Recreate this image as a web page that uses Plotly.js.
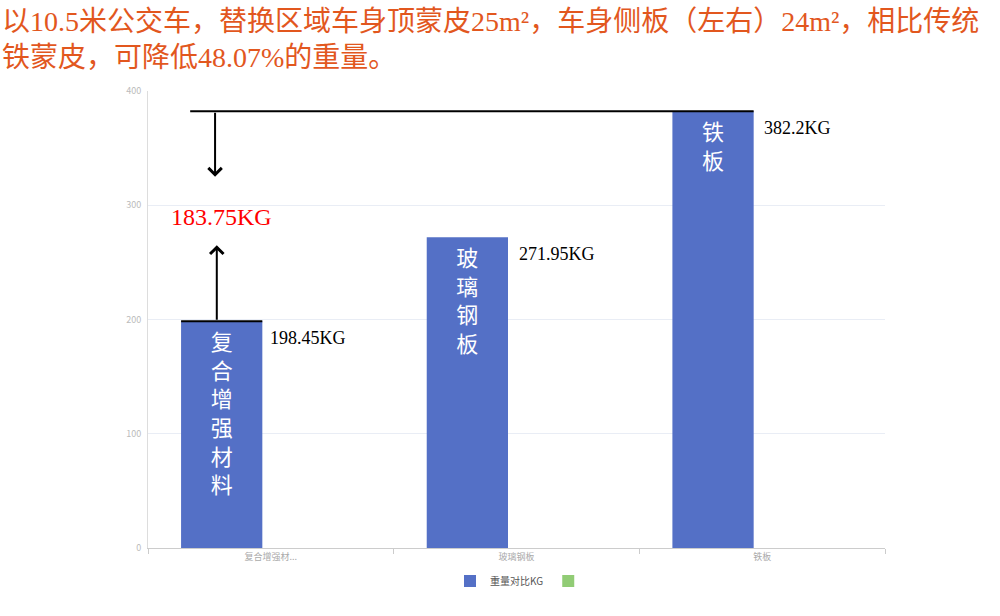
<!DOCTYPE html>
<html>
<head>
<meta charset="utf-8">
<script src="https://cdn.plot.ly/plotly-3.0.1.min.js"></script>
<style>
  html, body { margin: 0; padding: 0; background: #fff; }
  #chart { width: 1000px; height: 616px; }
</style>
</head>
<body>
<div id="chart"></div>
<script>
// 数据
const categories = ['复合增强材...', '玻璃钢板', '铁板'];
const barNames = ['复合增强材料', '玻璃钢板', '铁板'];
const weights = [198.45, 271.95, 382.2];
const weightLabels = ['198.45KG', '271.95KG', '382.2KG'];
const saving = 183.75;                 // 382.2 - 198.45
const arrowTips = [325, 265];          // 箭头尖端位置（下箭头、上箭头）
const yTicks = [0, 100, 200, 300, 400];
const titleText = '以10.5米公交车，替换区域车身顶蒙皮25m²，车身侧板（左右）24m²，相比传统<br>铁蒙皮，可降低48.07%的重量。';

const bargap = 0.2;
const barBase = (1 - bargap) / 4;      // 分组后第一根柱子相对类别中心的偏移
const barHalf = 81 / 245 / 2;          // 柱宽的一半（类别单位）
const barCenter = i => i - barBase;

const serif = 'Liberation Serif, "Noto Sans CJK SC", serif';
const sans = '"Noto Sans CJK SC", "Noto Sans", sans-serif';

const traces = [
  {
    type: 'bar',
    name: '重量对比KG',
    x: categories,
    y: weights,
    marker: { color: '#5470c6' },
    text: barNames.map(s => s.split('').join('<br>')),
    textposition: 'inside',
    insidetextanchor: 'end',
    textangle: 0,
    textfont: { color: '#ffffff', size: 22, family: sans },
    hoverinfo: 'x+y'
  },
  {
    type: 'bar',
    name: ' ',
    x: categories,
    y: categories.map(() => null),
    marker: { color: '#91cc75' }
  }
];

const annotations = weights.map((v, i) => ({
  x: i, y: v, xref: 'x', yref: 'y',
  text: weightLabels[i],
  showarrow: false,
  xanchor: 'left', yanchor: 'top',
  xshift: i === 0 ? -3 : 0, yshift: -5,
  font: { family: serif, size: 18, color: '#000' }
}));

// 标题
annotations.push({
  x: -0.2008, y: 1.19, xref: 'paper', yref: 'paper',
  text: titleText,
  showarrow: false, align: 'left',
  xanchor: 'left', yanchor: 'top',
  font: { family: serif, size: 28, color: '#e2571e' }
});

// 节省的重量
annotations.push({
  x: barCenter(0), y: 290, xref: 'x', yref: 'y',
  text: saving.toFixed(2) + 'KG',
  showarrow: false,
  xanchor: 'center', yanchor: 'middle',
  font: { family: serif, size: 24, color: '#ff0000' }
});

// 向下箭头（从铁板重量线）
annotations.push({
  x: barCenter(0) - 0.027, y: arrowTips[0], xref: 'x', yref: 'y',
  ax: barCenter(0) - 0.027, ay: weights[2], axref: 'x', ayref: 'y',
  text: '', showarrow: true,
  arrowhead: 4, arrowsize: 1.3, arrowwidth: 2, arrowcolor: '#000'
});
// 向上箭头（从复合材料柱顶）
annotations.push({
  x: barCenter(0) - 0.02, y: arrowTips[1], xref: 'x', yref: 'y',
  ax: barCenter(0) - 0.02, ay: weights[0], axref: 'x', ayref: 'y',
  text: '', showarrow: true,
  arrowhead: 4, arrowsize: 1.3, arrowwidth: 2, arrowcolor: '#000'
});

const shapes = [
  {
    type: 'line', xref: 'x', yref: 'y',
    x0: barCenter(0) - barHalf + 0.037, x1: barCenter(2) + barHalf,
    y0: weights[2], y1: weights[2],
    line: { color: '#000', width: 2 }
  },
  {
    type: 'line', xref: 'x', yref: 'y',
    x0: barCenter(0) - barHalf, x1: barCenter(0) + barHalf,
    y0: weights[0], y1: weights[0],
    line: { color: '#000', width: 2 }
  }
];

const layout = {
  width: 1000,
  height: 616,
  barmode: 'group',
  bargap: bargap,
  bargroupgap: 0.173,
  margin: { l: 148, r: 115, t: 91, b: 68 },
  xaxis: {
    type: 'category',
    showline: true, linecolor: '#cccccc', linewidth: 1,
    ticks: 'outside', tickson: 'boundaries', ticklen: 5, tickcolor: '#cccccc',
    tickfont: { family: sans, size: 9, color: '#aaaaaa' },
    showgrid: false, zeroline: false
  },
  yaxis: {
    range: [0, 400],
    tickvals: yTicks,
    showline: true, linecolor: '#dddddd', linewidth: 1,
    gridcolor: '#e9edf5',
    zeroline: false,
    ticks: '', ticklabelstandoff: 4,
    tickfont: { family: sans, size: 9, color: '#bbbbbb' }
  },
  legend: {
    orientation: 'h',
    x: 0.523, xanchor: 'center', xref: 'container',
    y: 0.057, yanchor: 'middle', yref: 'container',
    font: { family: sans, size: 10, color: '#555555' }
  },
  annotations: annotations,
  shapes: shapes,
  paper_bgcolor: '#ffffff',
  plot_bgcolor: '#ffffff'
};

Plotly.newPlot('chart', traces, layout, { displayModeBar: false, staticPlot: true });
</script>
</body>
</html>
